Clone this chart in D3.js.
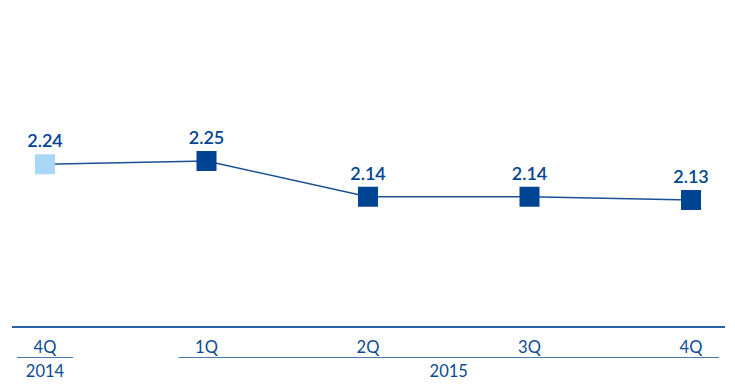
<!DOCTYPE html>
<html lang="en">
<head>
    <meta charset="UTF-8">
    <title>Quarterly ratio</title>
    <script src="https://d3js.org/d3.v7.min.js"></script>
    <style>
        body { margin: 0; background: #fff; }
        text { font-family: Lato, "Open Sans", sans-serif; fill: #0a4a94; }
    </style>
</head>
<body>
    <div id="chart"></div>
    <script>
        // data
        const quarters = ["4Q 2014", "1Q", "2Q", "3Q", "4Q"]
        const quarterLabels = ["4Q", "1Q", "2Q", "3Q", "4Q"]
        const values = [2.24, 2.25, 2.14, 2.14, 2.13]
        const years = [
            {label: "2014", from: "4Q 2014", to: "4Q 2014"},
            {label: "2015", from: "1Q", to: "4Q"}
        ]

        const width = 735, height = 390
        const dark = "#004494", light = "#a9d8f6"

        const svg = d3.select("#chart").append("svg")
            .attr("width", width)
            .attr("height", height)

        const x = d3.scalePoint()
            .domain(quarters)
            .range([45, 691])

        const y = d3.scaleLinear()
            .domain([2.13, 2.25])
            .range([200, 161])

        // base axis line
        svg.append("line")
            .attr("x1", 12).attr("x2", 725)
            .attr("y1", 327).attr("y2", 327)
            .attr("stroke", "#2a62a3")
            .attr("stroke-width", 2)

        // quarter labels
        svg.selectAll("text.q").data(quarters).enter()
            .append("text")
                .attr("class", "q")
                .attr("x", d => x(d))
                .attr("y", 353)
                .attr("text-anchor", "middle")
                .style("font-size", "16.5px")
                .text((d, i) => quarterLabels[i])

        // year brackets
        years.forEach(yr => {
            const x1 = x(yr.from) - 28
            const x2 = x(yr.to) + 28
            svg.append("line")
                .attr("x1", x1).attr("x2", x2)
                .attr("y1", 357.5).attr("y2", 357.5)
                .attr("stroke", "#4a78ad")
                .attr("stroke-width", 1)
            svg.append("text")
                .attr("x", (x1 + x2) / 2)
                .attr("y", 377)
                .attr("text-anchor", "middle")
                .style("font-size", "16.5px")
                .text(yr.label)
        })

        // line
        svg.append("path")
            .datum(values)
            .attr("fill", "none")
            .attr("stroke", "#1a5096")
            .attr("stroke-width", 1.5)
            .attr("d", d3.line()
                .x((d, i) => x(quarters[i]))
                .y(d => y(d)))

        // squares
        const s = 20
        svg.selectAll("rect.pt").data(values).enter()
            .append("rect")
                .attr("class", "pt")
                .attr("x", (d, i) => x(quarters[i]) - s / 2)
                .attr("y", d => y(d) - s / 2)
                .attr("width", s)
                .attr("height", s)
                .attr("fill", (d, i) => i === 0 ? light : dark)

        // value labels
        svg.selectAll("text.v").data(values).enter()
            .append("text")
                .attr("class", "v")
                .attr("x", (d, i) => x(quarters[i]))
                .attr("y", d => y(d) - 17)
                .attr("text-anchor", "middle")
                .style("font-size", "18px")
                .style("font-weight", "600")
                .style("fill", dark)
                .text(d => d.toFixed(2))
    </script>
</body>
</html>
